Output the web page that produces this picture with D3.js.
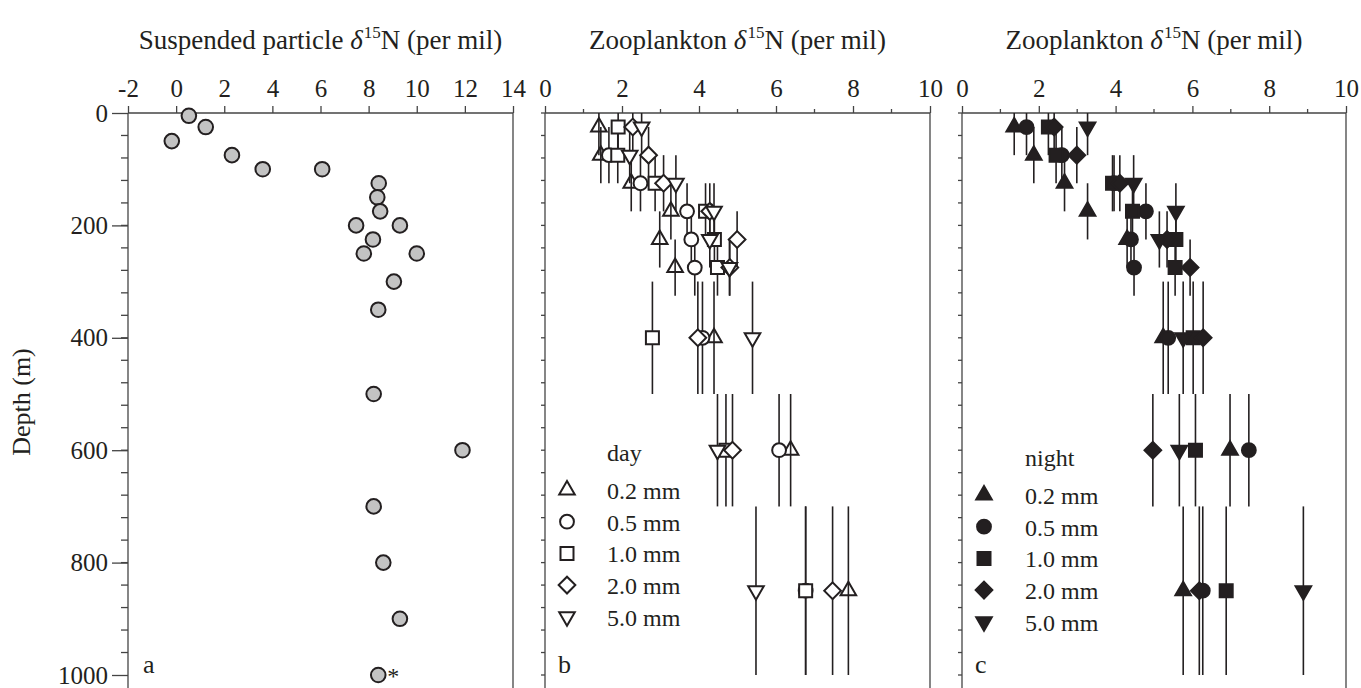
<!DOCTYPE html>
<html>
<head>
<meta charset="utf-8">
<script src="https://cdn.jsdelivr.net/npm/d3@7"></script>
<style>
  body { margin: 0; background: #fff; }
  text { font-family: "Liberation Serif", "Times New Roman", serif; fill: #231f20; }
</style>
</head>
<body>
<svg id="chart" width="1361" height="688"></svg>
<script>
'use strict';

// panel a : suspended particles
var particleDepth = [5, 25, 50, 75, 100, 100, 125, 150, 175, 200, 200, 225, 250, 250, 300, 350, 500, 600, 700, 800, 900, 1000];
var particleN = [0.53, 1.23, -0.18, 2.32, 3.6, 6.07, 8.42, 8.36, 8.48, 7.48, 9.3, 8.18, 7.8, 10.0, 9.05, 8.4, 8.21, 11.9, 8.21, 8.61, 9.3, 8.4];

// panels b, c : zooplankton, by net size
var zooDepth = [25, 75, 125, 175, 225, 275, 400, 600, 850];
var zooDepthHalf = [50, 50, 50, 50, 50, 50, 100, 100, 150];
var sizeLabels = ['0.2 mm', '0.5 mm', '1.0 mm', '2.0 mm', '5.0 mm'];

var day02 = [1.40, 1.45, 2.24, 3.27, 2.98, 3.38, 4.39, 6.38, 7.88];
var day05 = [null, 1.66, 2.48, 3.69, 3.80, 3.89, 4.09, 6.08, 6.77];
var day10 = [1.90, 1.89, 2.86, 4.17, 4.40, 4.48, 2.79, 4.70, 6.77];
var day20 = [2.28, 2.69, 3.08, 4.28, 4.99, 4.80, 3.97, 4.87, 7.47];
var day50 = [2.51, 2.20, 3.40, 4.39, 4.28, 4.79, 5.39, 4.48, 5.48];

var night02 = [1.36, 1.87, 2.67, 3.27, 4.30, null, 5.24, 6.98, 5.76];
var night05 = [1.68, 2.60, 3.96, 4.79, 4.40, 4.48, 5.37, 7.47, 6.27];
var night10 = [2.25, 2.45, 3.92, 4.44, 5.57, 5.55, 6.02, 6.08, 6.88];
var night20 = [2.40, 2.99, 4.11, null, 5.34, 5.94, 6.28, 4.97, 6.18];
var night50 = [3.27, null, 4.47, 5.57, 5.14, null, 5.76, 5.66, 8.89];

var depthMajor = [0, 200, 400, 600, 800, 1000];
var shapes = ['up', 'circle', 'square', 'diamond', 'down'];

var svg = d3.select('#chart');
var ink = '#231f20';

var y = d3.scaleLinear().domain([0, 1000]).range([113, 675]);
var yTop = 113;

function symbolPath(shape) {
  if (shape === 'circle') return d3.symbol(d3.symbolCircle, 150)();
  if (shape === 'square') return d3.symbol(d3.symbolSquare, 169)();
  if (shape === 'diamond') return d3.symbol(d3.symbolSquare, 140)();
  return d3.symbol(d3.symbolTriangle, 105)();
}
function symbolRotate(shape) {
  if (shape === 'diamond') return 45;
  if (shape === 'down') return 180;
  return 0;
}

function drawFrame(g, x, minorStep, ticks) {
  var r = x.range();
  g.append('line').attr('x1', r[0]).attr('x2', r[1]).attr('y1', yTop).attr('y2', yTop)
    .attr('stroke', '#444').attr('stroke-width', 1.3);
  g.append('line').attr('x1', r[0]).attr('x2', r[0]).attr('y1', yTop).attr('y2', 700)
    .attr('stroke', '#444').attr('stroke-width', 1.3);
  g.append('line').attr('x1', r[1]).attr('x2', r[1]).attr('y1', yTop).attr('y2', 700)
    .attr('stroke', '#444').attr('stroke-width', 1.3);

  var ax = g.append('g').attr('transform', 'translate(0,' + yTop + ')')
    .call(d3.axisTop(x).tickValues(ticks).tickSize(7).tickPadding(9).tickFormat(function(d){ return String(d); }));
  ax.select('.domain').remove();
  ax.selectAll('line').attr('stroke', '#444').attr('stroke-width', 1.3);
  ax.selectAll('text').attr('font-size', 25).attr('font-family', null).attr('fill', ink);

  if (minorStep) {
    var dom = x.domain();
    var minor = d3.range(dom[0] + minorStep, dom[1], minorStep * 2);
    g.selectAll('.minorx').data(minor).enter().append('line')
      .attr('x1', x).attr('x2', x).attr('y1', yTop - 4).attr('y2', yTop)
      .attr('stroke', '#444').attr('stroke-width', 1.3);
  }
}

function drawTitle(g, x, label) {
  var r = x.range();
  var t = g.append('text').attr('x', (r[0] + r[1]) / 2).attr('y', 49)
    .attr('text-anchor', 'middle').attr('font-size', 27);
  t.append('tspan').text(label + ' ');
  t.append('tspan').attr('font-style', 'italic').text('\u03b4');
  t.append('tspan').attr('font-size', 17).attr('dy', -11).attr('dx', 1).text('15');
  t.append('tspan').attr('dy', 11).text('N (per mil)');
}

// ---------- panel a ----------
var xa = d3.scaleLinear().domain([-2, 14]).range([128, 513]);
var ga = svg.append('g');
drawFrame(ga, xa, null, d3.range(-2, 15, 2));
drawTitle(ga, xa, 'Suspended particle');

var yAxis = ga.append('g').attr('transform', 'translate(128,0)')
  .call(d3.axisLeft(y).tickValues(depthMajor).tickSize(16).tickPadding(4).tickFormat(function(d){ return String(d); }));
yAxis.select('.domain').remove();
yAxis.selectAll('line').attr('stroke', '#444').attr('stroke-width', 1.3);
yAxis.selectAll('text').attr('font-size', 25).attr('font-family', null).attr('fill', ink);

ga.selectAll('.minory').data(d3.range(40, 1000, 40)).enter().append('line')
  .attr('x1', 121).attr('x2', 128).attr('y1', y).attr('y2', y)
  .attr('stroke', '#444').attr('stroke-width', 1.3);

svg.append('text').attr('transform', 'translate(30,402) rotate(-90)')
  .attr('text-anchor', 'middle').attr('font-size', 26).text('Depth (m)');

ga.selectAll('.pt').data(particleN).enter().append('circle')
  .attr('cx', function(d){ return xa(d); })
  .attr('cy', function(d, i){ return y(particleDepth[i]); })
  .attr('r', 7.3)
  .attr('fill', '#c3c3c3').attr('stroke', ink).attr('stroke-width', 2);

var last = particleN.length - 1;
ga.append('text').attr('x', xa(particleN[last]) + 9).attr('y', y(particleDepth[last]) + 9)
  .attr('font-size', 24).text('*');
ga.append('text').attr('x', 143).attr('y', 673).attr('font-size', 26).text('a');

// ---------- panels b, c ----------
function drawZoo(x0, x1, series, filled, title, letter, legend) {
  var x = d3.scaleLinear().domain([0, 10]).range([x0, x1]);
  var g = svg.append('g');
  drawFrame(g, x, 1, d3.range(0, 11, 2));
  drawTitle(g, x, title);

  g.selectAll('.minory').data(d3.range(0, 1020, 40)).enter().append('line')
    .attr('x1', x0 - 4).attr('x2', x0).attr('y1', y).attr('y2', y)
    .attr('stroke', '#444').attr('stroke-width', 1.3);

  var clipId = 'clip' + letter;
  svg.append('clipPath').attr('id', clipId).append('rect')
    .attr('x', x0).attr('y', yTop).attr('width', x1 - x0).attr('height', 700 - yTop);

  var pts = [];
  series.forEach(function(vals, s) {
    vals.forEach(function(v, i) {
      if (v !== null) pts.push({ v: v, depth: zooDepth[i], half: zooDepthHalf[i], shape: shapes[s] });
    });
  });

  var plot = g.append('g').attr('clip-path', 'url(#' + clipId + ')');
  plot.selectAll('.bar').data(pts).enter().append('line')
    .attr('x1', function(d){ return x(d.v); }).attr('x2', function(d){ return x(d.v); })
    .attr('y1', function(d){ return y(d.depth - d.half); })
    .attr('y2', function(d){ return y(d.depth + d.half); })
    .attr('stroke', ink).attr('stroke-width', 1.6);

  g.selectAll('.sym').data(pts).enter().append('path')
    .attr('d', function(d){ return symbolPath(d.shape); })
    .attr('transform', function(d){
      return 'translate(' + x(d.v) + ',' + y(d.depth) + ') rotate(' + symbolRotate(d.shape) + ')';
    })
    .attr('fill', function(d){ return filled ? ink : (d.shape === 'up' ? 'none' : '#fff'); })
    .attr('stroke', ink).attr('stroke-width', 2);

  // legend
  g.append('text').attr('x', legend.tx).attr('y', legend.head).attr('font-size', 24).text(legend.title);
  var items = g.selectAll('.leg').data(sizeLabels).enter().append('g')
    .attr('transform', function(d, i){ return 'translate(0,' + (legend.y0 + i * legend.step) + ')'; });
  items.append('path')
    .attr('d', function(d, i){ return symbolPath(shapes[i]); })
    .attr('transform', function(d, i){ return 'translate(' + legend.sx + ',0) rotate(' + symbolRotate(shapes[i]) + ')'; })
    .attr('fill', filled ? ink : '#fff').attr('stroke', ink).attr('stroke-width', 2);
  items.append('text').attr('x', legend.tx).attr('y', 9).attr('font-size', 24).text(function(d){ return d; });

  g.append('text').attr('x', x0 + 13).attr('y', 673).attr('font-size', 26).text(letter);
}

drawZoo(545, 930, [day02, day05, day10, day20, day50], false, 'Zooplankton', 'b',
  { title: 'day', head: 461, sx: 567, tx: 607, y0: 490, step: 31.7 });
drawZoo(962, 1346, [night02, night05, night10, night20, night50], true, 'Zooplankton', 'c',
  { title: 'night', head: 466, sx: 984, tx: 1025, y0: 495, step: 31.7 });
</script>
</body>
</html>
